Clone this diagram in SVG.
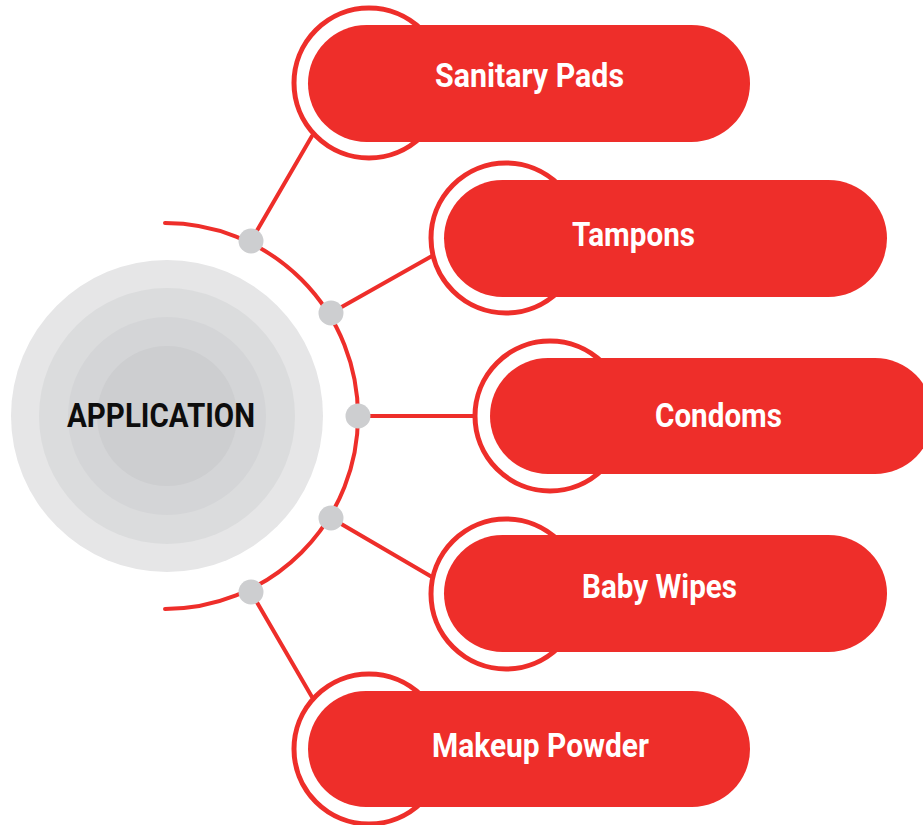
<svg xmlns="http://www.w3.org/2000/svg" width="923" height="825" viewBox="0 0 923 825">
<style>
.ring{fill:none;stroke:#ee2e2a;stroke-width:5}
.pill{fill:#ee2e2a}
.lbl{font-family:Roboto,"Liberation Sans",sans-serif;font-weight:700;font-size:32.5px;fill:#ffffff}
.conn{stroke:#ee2e2a;stroke-width:4;fill:none;stroke-linecap:round}
.dot{fill:#cdced0}
</style>
<rect width="923" height="825" fill="#ffffff"/>
<g id="center">
<circle cx="167" cy="416" r="156" fill="#e6e6e7"/>
<circle cx="167" cy="416" r="128" fill="#dbdcdd"/>
<circle cx="167" cy="416" r="99" fill="#d4d5d7"/>
<circle cx="167" cy="416" r="70" fill="#cdced0"/>
<text x="67" y="427" textLength="188" lengthAdjust="spacingAndGlyphs" style="font-family:Roboto,'Liberation Sans',sans-serif;font-weight:700;font-size:34px;fill:#0d0d0d">APPLICATION</text>
</g>
<g id="connectors">
<path class="conn" d="M165,223 A193,193 0 0 1 165,609"/>
<line class="conn" x1="251" y1="241" x2="312" y2="136"/>
<line class="conn" x1="331" y1="313" x2="432" y2="256"/>
<line class="conn" x1="358" y1="416" x2="474" y2="416"/>
<line class="conn" x1="331" y1="518" x2="432" y2="577"/>
<line class="conn" x1="251" y1="592" x2="312" y2="697"/>
<circle class="dot" cx="251" cy="241" r="12.5"/>
<circle class="dot" cx="331" cy="313" r="12.5"/>
<circle class="dot" cx="358" cy="416" r="12.5"/>
<circle class="dot" cx="331" cy="518" r="12.5"/>
<circle class="dot" cx="251" cy="592" r="12.5"/>
</g>
<g id="sanitary-pads">
<circle class="ring" cx="369" cy="83" r="75"/>
<rect class="pill" x="308" y="25" width="442" height="117" rx="58.5"/>
<text class="lbl" x="435" y="87" textLength="189" lengthAdjust="spacingAndGlyphs">Sanitary Pads</text>
</g>
<g id="tampons">
<circle class="ring" cx="506" cy="238" r="75"/>
<rect class="pill" x="444" y="180" width="443" height="117" rx="58.5"/>
<text class="lbl" x="572" y="246" textLength="123" lengthAdjust="spacingAndGlyphs">Tampons</text>
</g>
<g id="condoms">
<circle class="ring" cx="550" cy="416" r="75"/>
<rect class="pill" x="490" y="358" width="443" height="116" rx="58"/>
<text class="lbl" x="655" y="427" textLength="127" lengthAdjust="spacingAndGlyphs">Condoms</text>
</g>
<g id="baby-wipes">
<circle class="ring" cx="506" cy="594" r="75"/>
<rect class="pill" x="444" y="535" width="443" height="117" rx="58.5"/>
<text class="lbl" x="582" y="598" textLength="155" lengthAdjust="spacingAndGlyphs">Baby Wipes</text>
</g>
<g id="makeup-powder">
<circle class="ring" cx="369" cy="749" r="75"/>
<rect class="pill" x="308" y="691" width="442" height="116" rx="58"/>
<text class="lbl" x="432" y="757" textLength="217" lengthAdjust="spacingAndGlyphs">Makeup Powder</text>
</g>
</svg>
